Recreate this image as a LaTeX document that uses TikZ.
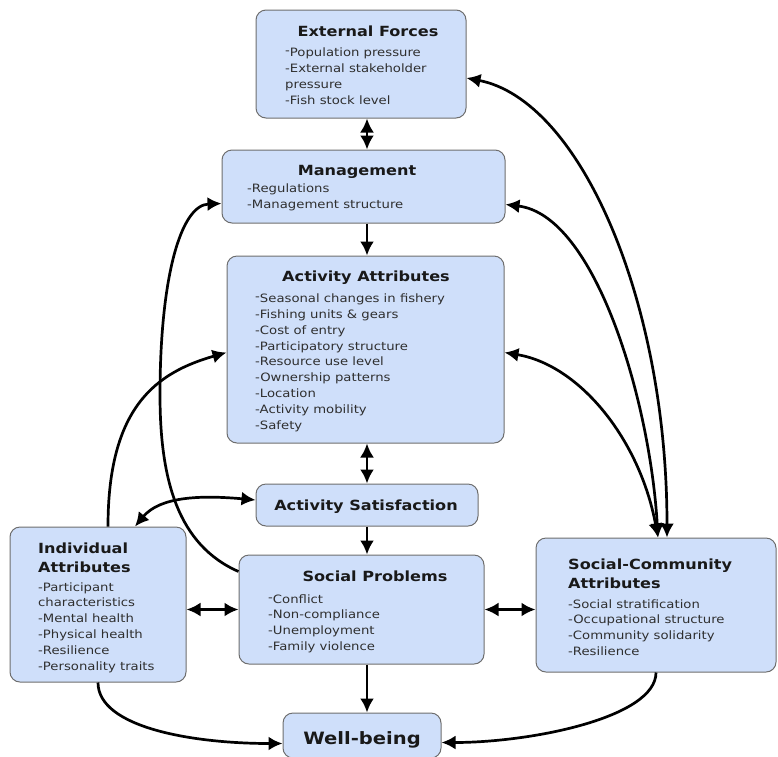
\documentclass[tikz,border=0pt]{standalone}
\usepackage{fontspec}
\setmainfont[FakeStretch=1.15]{DejaVu Sans}
\usetikzlibrary{arrows.meta,calc}
\definecolor{boxfill}{HTML}{CFDFFA}
\definecolor{boxline}{HTML}{6E6E6E}
\definecolor{itemtxt}{HTML}{2F2F2F}
\begin{document}
\begin{tikzpicture}[x=1pt,y=-1pt,
  box/.style={draw=boxline,line width=1pt,fill=boxfill,rounded corners=10pt,inner sep=0pt},
  ttl/.style={font=\fontsize{14}{19}\selectfont\bfseries,text=black!90,inner sep=0pt,align=left},
  itm/.style={font=\fontsize{11.5}{15.8}\selectfont,text=itemtxt,align=left,inner sep=0pt},
  arr/.style={line width=2.7pt,-{Latex[length=14pt,width=14pt]}},
  darr/.style={line width=2.7pt,{Latex[length=14pt,width=14pt]}-{Latex[length=14pt,width=14pt]}}]
\useasboundingbox (0,0) rectangle (778,756);

% boxes
\node[box,minimum width=210pt,minimum height=108pt] (ext) at (361,64) {};
\node[box,minimum width=283pt,minimum height=73pt] (mgmt) at (363.5,186.5) {};
\node[box,minimum width=277pt,minimum height=187pt] (act) at (365.5,349.5) {};
\node[box,minimum width=222pt,minimum height=42pt] (sat) at (367,505) {};
\node[box,minimum width=176pt,minimum height=155pt] (ind) at (98,604.5) {};
\node[box,minimum width=245pt,minimum height=109pt] (soc) at (361.5,609.5) {};
\node[box,minimum width=240pt,minimum height=134pt] (com) at (656,605) {};
\node[box,minimum width=158pt,minimum height=45pt] (well) at (362,735.5) {};

% texts (base anchor = baseline of last line)
\node[ttl,anchor=base] (extT) at (368,36) {External Forces};
\node[itm,anchor=base west] (extI) at (285,104) {\raisebox{2pt}{-}Population pressure\\-External stakeholder\\pressure\\-Fish stock level};

\node[ttl,anchor=base] (mgmtT) at (357,175) {Management};
\node[itm,anchor=base west] (mgmtI) at (247,208) {-Regulations\\-Management structure};

\node[ttl,anchor=base] (actT) at (366,281) {Activity Attributes};
\node[itm,anchor=base west] (actI) at (255,429) {\raisebox{2pt}{-}Seasonal changes in fishery\\-Fishing units \& gears\\-Cost of entry\\-Participatory structure\\-Resource use level\\-Ownership patterns\\-Location\\-Activity mobility\\-Safety};

\node[ttl,anchor=base] (satT) at (366,510) {Activity Satisfaction};

\node[ttl,anchor=base west] (indT) at (38,572) {Individual\\Attributes};
\node[itm,anchor=base west] (indI) at (38,670) {-Participant\\characteristics\\-Mental health\\-Physical health\\-Resilience\\-Personality traits};

\node[ttl,anchor=base] (socT) at (375,581) {Social Problems};
\node[itm,anchor=base west] (socI) at (268,650.5) {\raisebox{2pt}{-}Conflict\\-Non-compliance\\-Unemployment\\-Family violence};

\node[ttl,anchor=base west] (comT) at (568,588) {Social-Community\\Attributes};
\node[itm,anchor=base west] (comI) at (568,655.5) {-Social stratification\\-Occupational structure\\-Community solidarity\\-Resilience};

\node[ttl,anchor=base,font=\fontsize{17}{20}\selectfont\bfseries] (wellT) at (362,744) {Well-being};

% straight connectors
\draw[darr] (ext.south -| sat.center) -- (mgmt.north -| sat.center);
\draw[arr] (mgmt.south -| sat.center) -- (act.north -| sat.center);
\draw[darr] (act.south -| sat.center) -- (sat.north);
\draw[arr] (sat.south) -- (soc.north -| sat.center);
\draw[arr] (soc.south -| sat.center) -- (well.north -| sat.center);
\draw[darr] (ind.east |- soc.west) -- (soc.west);
\draw[darr] (soc.east) -- (soc.east -| com.west);

% curved connectors
\draw[arr] (ind.south) .. controls +(0,45) and +(-90,0) .. ([yshift=-8pt]well.west);
\draw[arr] (com.south) .. controls +(0,45) and +(90,0) .. ([yshift=-7pt]well.east);
\draw[arr] ([xshift=10pt]ind.north) .. controls +(0,-120) and +(-70,20) .. ([yshift=-3pt]act.west);
\draw[arr] ([yshift=-17pt]soc.north west) .. controls (178,545) and (160,480) .. (160,395)
   .. controls (160,280) and (180,205) .. ([yshift=-17pt]mgmt.west);
\draw[darr] ([xshift=37pt]ind.north) .. controls +(25,-30) and +(-55,-5) .. ([yshift=5pt]sat.west);
\draw[darr] ([yshift=-14pt]ext.east) .. controls (580,100) and (667,300) .. ([xshift=11pt]com.north);
\draw[darr] ([yshift=-18pt]mgmt.east) .. controls (595,215) and (650,400) .. ([xshift=2pt]com.north);
\draw[darr] ([yshift=-3pt]act.east) .. controls (580,365) and (640,440) .. ([xshift=2pt]com.north);
\end{tikzpicture}
\end{document}
